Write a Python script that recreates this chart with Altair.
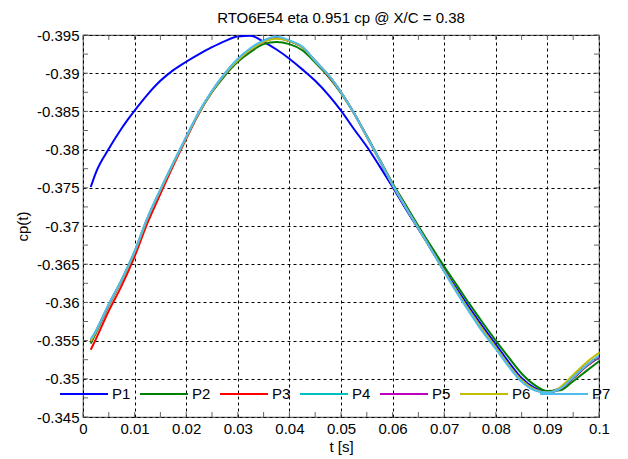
import altair as alt
import pandas as pd

FONT = "Liberation Sans, Arial, Helvetica, sans-serif"

# time samples [s]
t = [0.0015, 0.0025, 0.005, 0.0075, 0.01, 0.0125, 0.015, 0.0175, 0.02, 0.0225,
     0.025, 0.0275, 0.03, 0.0325, 0.035, 0.0375, 0.04, 0.0425, 0.045, 0.0475,
     0.05, 0.0525, 0.055, 0.0575, 0.06, 0.0625, 0.065, 0.0675, 0.07, 0.0725,
     0.075, 0.0775, 0.08, 0.0825, 0.085, 0.0875, 0.09, 0.0925, 0.095, 0.0975, 0.1]

P1 = [-0.3751, -0.3770, -0.3801, -0.3828, -0.3851, -0.3872, -0.3890, -0.3904, -0.3915, -0.3925,
      -0.3934, -0.3942, -0.3948, -0.3949, -0.3941, -0.3931, -0.3919, -0.3905, -0.3890, -0.3872,
      -0.3851, -0.3827, -0.3804, -0.3778, -0.3751, -0.3723, -0.3696, -0.3670, -0.3643, -0.3617,
      -0.3592, -0.3568, -0.3545, -0.3522, -0.3501, -0.3488, -0.3483, -0.3488, -0.3501, -0.3516, -0.3528]
P2 = [-0.3546, -0.3560, -0.3596, -0.3629, -0.3666, -0.3710, -0.3747, -0.3782, -0.3816, -0.3848,
      -0.3875, -0.3897, -0.3915, -0.3928, -0.3938, -0.3941, -0.3938, -0.3930, -0.3914, -0.3896,
      -0.3874, -0.3848, -0.3818, -0.3787, -0.3756, -0.3728, -0.3700, -0.3673, -0.3647, -0.3622,
      -0.3597, -0.3573, -0.3550, -0.3528, -0.3507, -0.3492, -0.3484, -0.3485, -0.3497, -0.3510, -0.3523]
P3 = [-0.3538, -0.3552, -0.3589, -0.3622, -0.3660, -0.3704, -0.3742, -0.3779, -0.3814, -0.3848,
      -0.3876, -0.3899, -0.3918, -0.3932, -0.3942, -0.3946, -0.3942, -0.3934, -0.3916, -0.3897,
      -0.3875, -0.3848, -0.3817, -0.3786, -0.3754, -0.3725, -0.3697, -0.3669, -0.3641, -0.3614,
      -0.3588, -0.3564, -0.3541, -0.3518, -0.3498, -0.3486, -0.3482, -0.3487, -0.3501, -0.3516, -0.3529]
P4 = [-0.3550, -0.3562, -0.3597, -0.3629, -0.3666, -0.3710, -0.3747, -0.3782, -0.3816, -0.3849,
      -0.3876, -0.3899, -0.3918, -0.3932, -0.3942, -0.3946, -0.3942, -0.3934, -0.3916, -0.3898,
      -0.3875, -0.3848, -0.3817, -0.3786, -0.3754, -0.3725, -0.3697, -0.3669, -0.3641, -0.3614,
      -0.3588, -0.3564, -0.3541, -0.3518, -0.3498, -0.3486, -0.3482, -0.3487, -0.3502, -0.3517, -0.3530]
P5 = [-0.3549, -0.3562, -0.3597, -0.3629, -0.3666, -0.3710, -0.3747, -0.3782, -0.3816, -0.3849,
      -0.3876, -0.3899, -0.3917, -0.3931, -0.3941, -0.3946, -0.3942, -0.3934, -0.3916, -0.3898,
      -0.3875, -0.3848, -0.3817, -0.3786, -0.3754, -0.3725, -0.3697, -0.3669, -0.3641, -0.3614,
      -0.3588, -0.3564, -0.3541, -0.3518, -0.3498, -0.3486, -0.3482, -0.3487, -0.3502, -0.3517, -0.3529]
P6 = [-0.3549, -0.3562, -0.3597, -0.3629, -0.3666, -0.3710, -0.3747, -0.3782, -0.3816, -0.3849,
      -0.3876, -0.3899, -0.3917, -0.3931, -0.3941, -0.3945, -0.3942, -0.3934, -0.3916, -0.3898,
      -0.3875, -0.3848, -0.3817, -0.3786, -0.3754, -0.3725, -0.3697, -0.3669, -0.3641, -0.3614,
      -0.3588, -0.3564, -0.3541, -0.3518, -0.3498, -0.3486, -0.3482, -0.3489, -0.3505, -0.3521, -0.3534]
P7 = [-0.3552, -0.3563, -0.3598, -0.3630, -0.3667, -0.3711, -0.3748, -0.3783, -0.3817, -0.3850,
      -0.3877, -0.3900, -0.3919, -0.3933, -0.3943, -0.3948, -0.3943, -0.3935, -0.3916, -0.3898,
      -0.3875, -0.3848, -0.3817, -0.3786, -0.3754, -0.3725, -0.3697, -0.3669, -0.3640, -0.3612,
      -0.3586, -0.3561, -0.3539, -0.3516, -0.3496, -0.3485, -0.3482, -0.3487, -0.3502, -0.3517, -0.3530]

names = ["P1", "P2", "P3", "P4", "P5", "P6", "P7"]
series = [P1, P2, P3, P4, P5, P6, P7]
colors = ["#0000ff", "#008000", "#ff0000", "#00bfbf", "#bf00bf", "#bfbf00", "#4dbeee"]

x_major = [0, 0.01, 0.02, 0.03, 0.04, 0.05, 0.06, 0.07, 0.08, 0.09, 0.1]
y_major = [-0.395, -0.39, -0.385, -0.38, -0.375, -0.37, -0.365, -0.36, -0.355, -0.35, -0.345]
x_minor = [0, 0.005, 0.01, 0.015, 0.02, 0.025, 0.03, 0.035, 0.04, 0.045, 0.05,
           0.055, 0.06, 0.065, 0.07, 0.075, 0.08, 0.085, 0.09, 0.095, 0.1]
y_minor = [-0.395, -0.3925, -0.39, -0.3875, -0.385, -0.3825, -0.38, -0.3775, -0.375, -0.3725,
           -0.37, -0.3675, -0.365, -0.3625, -0.36, -0.3575, -0.355, -0.3525, -0.35, -0.3475, -0.345]

title_text = "RTO6E54 eta 0.951 cp @ X/C = 0.38"

rows = []
for name, vals in zip(names, series):
    for ti, v in zip(t, vals):
        rows.append({"t": ti, "cp": v, "series": name})
df = pd.DataFrame(rows)
df_xt = pd.DataFrame({"t": x_minor})
df_yt = pd.DataFrame({"cp": y_minor})

W, H = 516, 382
AX = "#666666"
TL = 5
FS = 15

xscale = alt.Scale(domain=[0, 0.1], nice=False, zero=False)
yscale = alt.Scale(domain=[-0.395, -0.345], nice=False, zero=False, reverse=True)

common = dict(grid=True, gridColor="#000000", gridDash=[3, 3], gridWidth=1, gridOpacity=1,
              ticks=False, tickSize=0, domain=False, labelPadding=4, labelFlush=False,
              labelOverlap=False, labelFontSize=FS, labelFont=FONT, labelColor="#000000",
              titleFontSize=FS, titleFont=FONT, titleFontWeight="normal", titleColor="#000000")
xaxis = alt.Axis(values=x_major, format=".2~f", title="t [s]", titlePadding=3, **common)
yaxis = alt.Axis(values=y_major, labelExpr="'-' + format(abs(datum.value), '.3~f')",
                 title="cp(t)", titlePadding=6, **common)

X = alt.X("t:Q", scale=xscale, axis=xaxis)
Y = alt.Y("cp:Q", scale=yscale, axis=yaxis)

lines = alt.Chart(df).mark_line(strokeWidth=2, interpolate="monotone", clip=True).encode(
    x=X,
    y=Y,
    color=alt.Color("series:N", scale=alt.Scale(domain=names, range=colors),
                    legend=alt.Legend(title=None, orient="none", legendX=-24, legendY=334,
                                      direction="horizontal", columns=7,
                                      symbolType="stroke", symbolSize=2304, symbolStrokeWidth=2,
                                      labelFontSize=FS, labelFont=FONT, labelColor="#000000",
                                      labelOffset=3, columnPadding=5, padding=0)),
)

tb = alt.Chart(df_xt).mark_rule(color=AX, strokeWidth=1).encode(x=X, y=alt.value(H), y2=alt.value(H - TL))
tt = alt.Chart(df_xt).mark_rule(color=AX, strokeWidth=1).encode(x=X, y=alt.value(0), y2=alt.value(TL))
tl = alt.Chart(df_yt).mark_rule(color=AX, strokeWidth=1).encode(y=Y, x=alt.value(0), x2=alt.value(TL))
tr = alt.Chart(df_yt).mark_rule(color=AX, strokeWidth=1).encode(y=Y, x=alt.value(W - TL), x2=alt.value(W))

chart = alt.layer(lines, tb, tt, tl, tr).properties(
    width=W, height=H,
    title=alt.TitleParams(title_text, fontSize=FS, font=FONT, fontWeight="normal", color="#000000",
                          anchor="middle", offset=2),
    autosize=alt.AutoSizeParams(type="none"),
    padding={"left": 75, "top": 27, "right": 21, "bottom": 40},
    background="white",
).configure_view(stroke=AX, strokeWidth=1.2)

chart.save("out.html", embed_options={"renderer": "svg", "actions": False})
